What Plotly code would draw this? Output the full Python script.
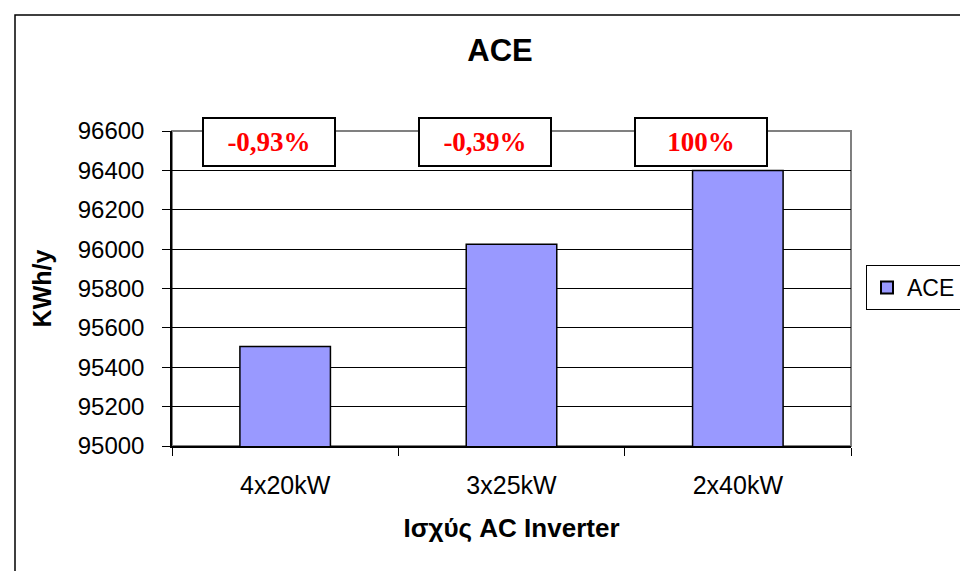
import plotly.graph_objects as go

categories = ["4x20kW", "3x25kW", "2x40kW"]
values = [95505, 96025, 96400]
pct_labels = ["-0,93%", "-0,39%", "100%"]
series_name = "ACE"
y_ticks = [95000, 95200, 95400, 95600, 95800, 96000, 96200, 96400, 96600]
y_tick_text = [str(v) for v in y_ticks]

fig = go.Figure()
fig.add_trace(go.Bar(
    x=categories, y=values, name=series_name,
    marker=dict(color="#9999FF", line=dict(color="black", width=1.5)),
    showlegend=True,
))

L, R, T, B = 172, 109, 131, 125
W, H = 960, 571
pw = W - L - R
ph = H - T - B

def px_x(x):
    return (x - L) / pw

def px_y(y):
    return (H - B - y) / ph

# outer chart border
fig.add_shape(type="rect", xref="paper", yref="paper",
              x0=px_x(15), x1=px_x(975), y0=px_y(15), y1=px_y(590),
              line=dict(color="black", width=1.5), layer="below")
# gray plot border (top/right)
fig.add_shape(type="rect", xref="paper", yref="paper",
              x0=0, x1=1, y0=0, y1=1,
              line=dict(color="#808080", width=2), layer="below")

box_centers = [268.5, 484.5, 700.5]
for cx, txt in zip(box_centers, pct_labels):
    fig.add_annotation(
        xref="paper", yref="paper", x=px_x(cx), y=px_y(141.5),
        text=txt, showarrow=False, xanchor="center", yanchor="middle",
        width=128, height=44, bgcolor="white",
        bordercolor="black", borderwidth=2,
        font=dict(family="Liberation Serif", size=27, color="#FF0000", weight="bold"),
    )

fig.update_layout(
    width=W, height=H,
    margin=dict(l=L, r=R, t=T, b=B, autoexpand=False),
    paper_bgcolor="white", plot_bgcolor="white",
    font=dict(family="Liberation Sans, Arial", color="black", size=20),
    title=dict(text="<b>ACE</b>", x=500 / W, xanchor="center",
               y=1 - 50 / H, yanchor="middle",
               font=dict(size=31, family="Liberation Sans, Arial")),
    bargap=0.6,
    legend=dict(x=px_x(866), y=px_y(287.5), xanchor="left", yanchor="middle",
                bordercolor="black", borderwidth=1, bgcolor="white",
                font=dict(size=23), itemsizing="constant",
                itemwidth=30),
    xaxis=dict(
        showline=True, linecolor="black", linewidth=1.5,
        ticks="outside", tickson="boundaries", ticklen=8, tickcolor="black",
        tickfont=dict(size=25), ticklabelstandoff=16,
        title=dict(text="<b>Ισχύς AC Inverter</b>", font=dict(size=26), standoff=21),
    ),
    yaxis=dict(
        range=[95000, 96600], tickvals=y_ticks, ticktext=y_tick_text,
        showline=True, linecolor="black", linewidth=1.5,
        ticks="outside", ticklen=8, tickcolor="black",
        showgrid=True, gridcolor="#000000", gridwidth=1,
        tickfont=dict(size=24), ticklabelstandoff=13,
        title=dict(text="<b>KWh/y</b>", font=dict(size=25), standoff=19),
        zeroline=False,
    ),
)

fig.write_html("out.html")
